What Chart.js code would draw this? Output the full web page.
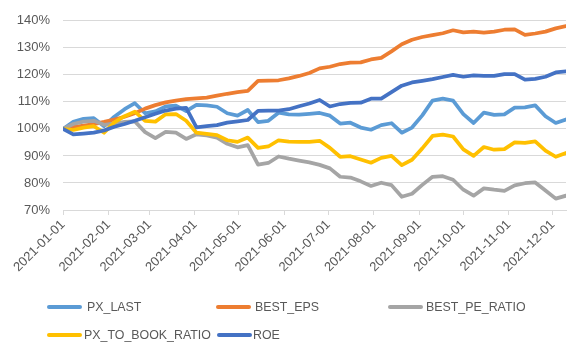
<!DOCTYPE html>
<html>
<head>
<meta charset="utf-8">
<script src="https://cdn.jsdelivr.net/npm/chart.js@4.4.1/dist/chart.umd.min.js"></script>
<style>
  html, body { margin: 0; padding: 0; background: #fff; }
  #wrap { position: relative; width: 587px; height: 355px; overflow: hidden; }
  #c { position: absolute; left: 0; top: 0; }
  .lg { position: absolute; font-family: 'Liberation Sans', Arial, sans-serif; font-size: 12.4px; color: #595959; white-space: nowrap; line-height: 16px; }
  .mk { position: absolute; height: 4px; width: 35px; border-radius: 2px; }
</style>
</head>
<body>
<div id="wrap">
  <canvas id="c" width="587" height="355"></canvas>
</div>
<script>
// ---- data ----
const dates = [
  '2021-01-01','2021-01-08','2021-01-15','2021-01-22','2021-01-29',
  '2021-02-05','2021-02-12','2021-02-19','2021-02-26',
  '2021-03-05','2021-03-12','2021-03-19','2021-03-26',
  '2021-04-02','2021-04-09','2021-04-16','2021-04-23','2021-04-30',
  '2021-05-07','2021-05-14','2021-05-21','2021-05-28',
  '2021-06-04','2021-06-11','2021-06-18','2021-06-25',
  '2021-07-02','2021-07-09','2021-07-16','2021-07-23','2021-07-30',
  '2021-08-06','2021-08-13','2021-08-20','2021-08-27',
  '2021-09-03','2021-09-10','2021-09-17','2021-09-24',
  '2021-10-01','2021-10-08','2021-10-15','2021-10-22','2021-10-29',
  '2021-11-05','2021-11-12','2021-11-19','2021-11-26',
  '2021-12-03','2021-12-10'
];
const tickLabels = ['2021-01-01','2021-02-01','2021-03-01','2021-04-01','2021-05-01','2021-06-01',
  '2021-07-01','2021-08-01','2021-09-01','2021-10-01','2021-11-01','2021-12-01'];
const seriesNames = ['PX_LAST','BEST_EPS','BEST_PE_RATIO','PX_TO_BOOK_RATIO','ROE'];
const seriesColors = ['#5B9BD5','#ED7D31','#A5A5A5','#FFC000','#4472C4'];

const pxLast = [100,102.6,103.7,104.0,101.0,104.5,107.3,109.5,105.8,106.5,108.3,108.6,106.6,
  108.9,108.7,108.2,105.8,104.9,107.0,102.5,103.0,106.0,105.4,105.3,105.6,105.9,104.9,102.0,
  102.3,100.5,99.7,101.4,102.1,98.6,100.5,105.0,110.5,111.2,110.5,105.5,102.2,106.0,105.2,
  105.4,107.9,108.0,108.7,104.7,102.2,103.5];
const bestEps = [100,100.7,101.2,101.8,102.6,103.5,104.5,105.8,107.5,108.8,109.8,110.5,111.0,
  111.3,111.6,112.3,113.0,113.6,114.1,117.8,117.9,118.0,118.7,119.6,120.7,122.4,123.0,124.0,
  124.5,124.6,125.7,126.3,128.7,131.3,133.0,134.0,134.7,135.4,136.5,135.7,136.0,135.6,136.0,
  136.7,136.8,134.8,135.3,136.0,137.2,138.0];
const bestPe = [100,101.8,102.7,103.0,101.5,102.0,102.6,102.8,98.8,96.6,98.9,98.6,96.3,
  98.0,97.6,96.8,94.5,93.2,94.0,86.8,87.4,89.8,89.0,88.3,87.6,86.7,85.4,82.3,82.0,80.6,78.9,
  80.1,79.2,74.9,76.0,79.3,82.3,82.5,81.2,77.5,75.3,78.0,77.5,77.1,79.1,79.9,80.2,77.2,74.2,75.3];
const pxToBook = [100,99.6,100.5,101.0,98.6,102.4,104.7,106.4,103.0,102.7,105.4,105.5,103.0,
  98.6,98.2,97.7,95.8,95.2,96.8,93.0,93.5,95.8,95.3,95.2,95.2,95.6,93.0,89.7,89.9,88.7,87.5,
  89.3,90.0,86.6,88.6,92.8,97.4,97.9,97.2,92.4,90.0,93.3,92.3,92.5,95.0,94.8,95.4,92.0,89.7,91.1];
const roe = [100,98.0,98.3,98.6,99.4,100.8,101.8,103.0,104.3,105.6,106.8,107.5,107.8,100.6,
  101.0,101.4,102.3,102.8,103.3,106.7,106.8,106.8,107.3,108.4,109.4,110.7,108.3,109.2,109.6,
  109.7,111.2,111.2,113.6,116.0,117.2,117.8,118.4,119.2,120.0,119.3,119.8,119.6,119.6,120.3,
  120.3,118.2,118.5,119.3,120.9,121.3];
const seriesValues = [pxLast, bestEps, bestPe, pxToBook, roe];

// ---- helpers ----
const base = Date.UTC(2021, 0, 1);
function dayNum(s) {
  const p = s.split('-').map(Number);
  return Math.round((Date.UTC(p[0], p[1] - 1, p[2]) - base) / 864e5);
}
const xs = dates.map(dayNum);
const tickDays = tickLabels.map(dayNum);
const tickMap = {};
tickLabels.forEach((t, i) => { tickMap[tickDays[i]] = t; });

const datasets = seriesNames.map((name, i) => ({
  label: name,
  data: xs.map((x, j) => ({ x: x, y: seriesValues[i][j] })),
  borderColor: seriesColors[i],
  backgroundColor: seriesColors[i],
  borderWidth: 3.75,
  pointRadius: 0,
  tension: 0,
  fill: false,
  borderJoinStyle: 'round',
  borderCapStyle: 'round',
  order: seriesNames.length - 1 - i
}));

Chart.defaults.font.family = "'Liberation Sans', Arial, sans-serif";
Chart.defaults.font.size = 13;
Chart.defaults.color = '#595959';

new Chart(document.getElementById('c'), {
  type: 'line',
  data: { datasets },
  options: {
    responsive: false,
    animation: false,
    layout: { padding: { left: 0, right: 21, top: 15, bottom: 0 } },
    plugins: { legend: { display: false }, tooltip: { enabled: false } },
    scales: {
      x: {
        type: 'linear',
        min: xs[0],
        max: xs[xs.length - 1],
        afterBuildTicks: (s) => { s.ticks = tickDays.map(v => ({ value: v })); },
        afterFit: (s) => { s.height = 145; },
        ticks: {
          autoSkip: false,
          minRotation: 45,
          maxRotation: 45,
          padding: 2,
          callback: (v) => tickMap[v] || ''
        },
        grid: { drawOnChartArea: false, drawTicks: true, tickLength: 5, color: '#d9d9d9', lineWidth: 1 },
        border: { display: true, color: '#d9d9d9', width: 1 }
      },
      y: {
        min: 70,
        max: 140,
        afterFit: (s) => { s.width = 63; },
        ticks: { stepSize: 10, padding: 13, callback: (v) => v + '%' },
        grid: { color: '#d9d9d9', lineWidth: 1, drawTicks: false },
        border: { display: false }
      }
    }
  }
});

// ---- legend (HTML, laid out in Excel-like columns) ----
const wrap = document.getElementById('wrap');
const legendPos = [
  { mx: 47, tx: 87, y: 307 },
  { mx: 216, tx: 255, y: 307 },
  { mx: 388, tx: 426, y: 307 },
  { mx: 47, tx: 84, y: 335 },
  { mx: 217, tx: 253, y: 335 }
];
seriesNames.forEach((name, i) => {
  const p = legendPos[i];
  const m = document.createElement('div');
  m.className = 'mk';
  m.style.left = p.mx + 'px';
  m.style.top = (p.y - 2) + 'px';
  m.style.background = seriesColors[i];
  wrap.appendChild(m);
  const t = document.createElement('div');
  t.className = 'lg';
  t.style.left = p.tx + 'px';
  t.style.top = (p.y - 8) + 'px';
  t.textContent = name;
  wrap.appendChild(t);
});
</script>
</body>
</html>
